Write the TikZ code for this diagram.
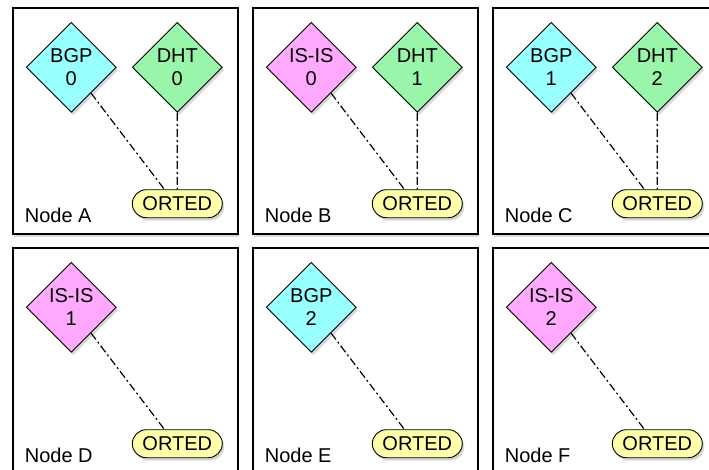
\documentclass[tikz,border=0pt]{standalone}
\usepackage{fontspec}
\setmainfont{Liberation Sans}
\usetikzlibrary{shapes.geometric,shapes.misc,shadows}

\begin{document}
\begin{tikzpicture}[x=1pt,y=-1pt,font=\fontsize{20}{23}\selectfont,
  panel/.style={draw,line width=1.4pt,fill=white,minimum width=225pt,
    minimum height=226pt,inner sep=0pt,
    drop shadow={opacity=0.3,shadow xshift=1pt,shadow yshift=-3pt}},
  daemon/.style={draw,diamond,line width=0.9pt,minimum width=90pt,
    minimum height=90pt,inner sep=0pt,align=center,
    drop shadow={opacity=0.3,shadow xshift=2pt,shadow yshift=-3pt}},
  orted/.style={draw,rounded rectangle,line width=0.9pt,fill=ortedyellow,
    minimum width=90pt,minimum height=28pt,inner sep=0pt,
    drop shadow={opacity=0.3,shadow xshift=2pt,shadow yshift=-3pt}},
  link/.style={line width=1.2pt,dash pattern=on 8pt off 3pt on 2pt off 3pt}]
  % Define fill colors
  \definecolor{bgpcyan}{RGB}{153,255,255}
  \definecolor{isispink}{RGB}{255,170,255}
  \definecolor{dhtgreen}{RGB}{153,245,170}
  \definecolor{ortedyellow}{RGB}{255,255,170}

  \useasboundingbox (0,0) rectangle (709,469);

  % One panel per machine, with its label and its ORTED
  \foreach \col/\row/\name in {0/0/A,1/0/B,2/0/C,0/1/D,1/1/E,2/1/F} {
    \node[panel] (box\name) at ({125.5+240*\col},{121+240*\row}) {};
    \node[anchor=base west] (label\name) at
    ([shift={(9,-12)}]box\name.south west) {Node \name};
    \node[orted] (orted\name) at
    ([shift={(165,-31)}]box\name.south west) {ORTED};
  }

  % Daemons of the top row
  \node[daemon,fill=bgpcyan] (bgp0) at ([shift={(59,60)}]boxA.north west) {BGP\\0};
  \node[daemon,fill=dhtgreen] (dht0) at ([shift={(165,60)}]boxA.north west) {DHT\\0};
  \node[daemon,fill=isispink] (isis0) at ([shift={(59,60)}]boxB.north west) {IS-IS\\0};
  \node[daemon,fill=dhtgreen] (dht1) at ([shift={(165,60)}]boxB.north west) {DHT\\1};
  \node[daemon,fill=bgpcyan] (bgp1) at ([shift={(59,60)}]boxC.north west) {BGP\\1};
  \node[daemon,fill=dhtgreen] (dht2) at ([shift={(165,60)}]boxC.north west) {DHT\\2};

  % Daemons of the bottom row
  \node[daemon,fill=isispink] (isis1) at ([shift={(59,60)}]boxD.north west) {IS-IS\\1};
  \node[daemon,fill=bgpcyan] (bgp2) at ([shift={(59,60)}]boxE.north west) {BGP\\2};
  \node[daemon,fill=isispink] (isis2) at ([shift={(59,60)}]boxF.north west) {IS-IS\\2};

  % Links from each daemon to its ORTED
  \draw[link] (bgp0) -- ([xshift=-13pt]ortedA.north);
  \draw[link] (dht0) -- (ortedA);
  \draw[link] (isis0) -- ([xshift=-13pt]ortedB.north);
  \draw[link] (dht1) -- (ortedB);
  \draw[link] (bgp1) -- ([xshift=-13pt]ortedC.north);
  \draw[link] (dht2) -- (ortedC);
  \draw[link] (isis1) -- ([xshift=-13pt]ortedD.north);
  \draw[link] (bgp2) -- ([xshift=-13pt]ortedE.north);
  \draw[link] (isis2) -- ([xshift=-13pt]ortedF.north);
\end{tikzpicture}
\end{document}
